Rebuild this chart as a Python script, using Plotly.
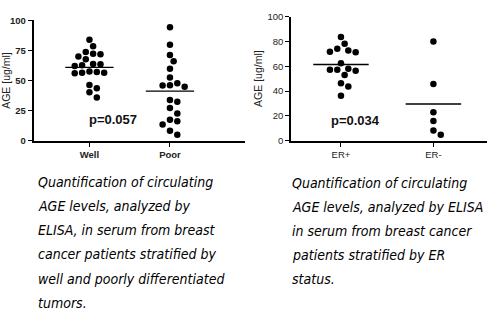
import plotly.graph_objects as go
import numpy as np

W, H = 490, 327

# ---- data ----
cats_left = ["Well", "Poor"]
well = [83.9, 78.5, 72.4, 70.0, 71.8, 73.7, 67.8, 63.8, 62.7, 62.2, 63.5,
        57.6, 56.6, 56.0, 56.6, 57.1, 46.4, 43.7, 40.2, 35.9]
poor = [94.4, 79.9, 71.3, 66.0, 59.8, 52.5, 46.1, 44.8, 45.8, 47.7, 33.8,
        32.4, 27.1, 22.5, 16.1, 13.4, 17.4, 8.3, 4.8]
cats_right = ["ER+", "ER-"]
er_pos = [83.6, 78.2, 72.7, 71.2, 71.7, 74.0, 62.3, 57.9, 57.1, 53.0, 56.4,
          57.1, 46.2, 43.6, 36.1]
er_neg = [80.0, 45.7, 22.9, 15.8, 8.1, 4.7]
ticks_left = [0, 25, 50, 75, 100]
ticks_right = [0, 20, 40, 60, 80, 100]
p_left = "p=0.057"
p_right = "p=0.034"
caption_left = ["Quantification of circulating", "AGE levels, analyzed by",
                "ELISA, in serum from breast", "cancer patients stratified by",
                "well and poorly differentiated", "tumors."]
caption_right = ["Quantification of circulating", "AGE levels, analyzed by ELISA",
                 "in serum from breast cancer", "patients stratified by ER",
                 "status."]

L = dict(x0=31, x1=243, ytop=15, ybot=139.3, xr=[0.309, 2.926])
R = dict(x0=290, x1=487, ytop=11, ybot=139.3, xr=[0.462, 2.58])

FONT = "Liberation Sans, Arial, sans-serif"


def beeswarm(vals, px_x, px_y, d=7.4):
    order = np.argsort(vals)[::-1]
    placed = []
    offs = np.zeros(len(vals))
    for i in order:
        yv = vals[i] * px_y
        best = None
        for k in range(0, 30):
            for s in ([0] if k == 0 else [k, -k]):
                xo = s * d / 2
                ok = all((xo - px) ** 2 + (yv - py) ** 2 >= (d * 0.98) ** 2 for px, py in placed)
                if ok:
                    best = xo
                    break
            if best is not None:
                break
        placed.append((best, yv))
        offs[i] = best / px_x
    return offs


fig = go.Figure()


def add_panel(g, series, xa, ya):
    px_x = (g["x1"] - g["x0"]) / (g["xr"][1] - g["xr"][0])
    px_y = (g["ybot"] - g["ytop"]) / 100.0
    for i, vals in enumerate(series):
        xc = i + 1
        offs = beeswarm(np.array(vals), px_x, px_y)
        fig.add_trace(go.Scatter(x=xc + offs, y=vals, mode="markers",
                                 marker=dict(color="black", size=6.5),
                                 xaxis=xa, yaxis=ya, showlegend=False))
        m = float(np.mean(vals))
        fig.add_trace(go.Scatter(x=[xc - 0.3, xc + 0.3], y=[m, m], mode="lines",
                                 line=dict(color="black", width=1.3),
                                 xaxis=xa, yaxis=ya, showlegend=False))


add_panel(L, [well, poor], "x", "y")
add_panel(R, [er_pos, er_neg], "x2", "y2")


def xdom(g):
    return [g["x0"] / W, g["x1"] / W]


def ydom(g):
    return [1 - g["ybot"] / H, 1 - g["ytop"] / H]


axis_common = dict(showline=True, linecolor="black", linewidth=2, showgrid=False,
                   zeroline=False, ticks="outside", ticklen=4, tickwidth=1.3,
                   tickcolor="black")
tickf = dict(family=FONT, size=9.5, color="#222")
titlef = dict(family=FONT, size=10.5, color="#222")

fig.update_layout(
    width=W, height=H, margin=dict(l=0, r=0, t=0, b=0),
    paper_bgcolor="white", plot_bgcolor="white",
    xaxis=dict(domain=xdom(L), range=L["xr"], tickvals=[1, 2],
               ticktext=["<b>%s</b>" % c for c in cats_left],
               tickfont=tickf, anchor="y", **axis_common),
    yaxis=dict(domain=ydom(L), range=[0, 100], tickvals=ticks_left,
               ticktext=["<b>%d</b>" % t for t in ticks_left], tickfont=tickf,
               title=dict(text="AGE [ug/ml]", font=titlef, standoff=3),
               anchor="x", **axis_common),
    xaxis2=dict(domain=xdom(R), range=R["xr"], tickvals=[1, 2], ticktext=cats_right,
                tickfont=tickf, anchor="y2", **axis_common),
    yaxis2=dict(domain=ydom(R), range=[0, 100], tickvals=ticks_right,
                tickfont=tickf,
                title=dict(text="AGE [ug/ml]", font=titlef, standoff=3),
                anchor="x2", **axis_common),
)

fig.add_annotation(text="<b>%s</b>" % p_left, x=85 / W, y=1 - 117 / H, xref="paper", yref="paper",
                   xanchor="left", yanchor="middle", showarrow=False,
                   font=dict(family=FONT, size=13, color="#111"))
fig.add_annotation(text="<b>%s</b>" % p_right, x=328 / W, y=1 - 118 / H, xref="paper", yref="paper",
                   xanchor="left", yanchor="middle", showarrow=False,
                   font=dict(family=FONT, size=13, color="#111"))

cap_font = dict(family="Liberation Sans Narrow, DejaVu Sans Condensed, sans-serif", size=14, color="black")
for i, line in enumerate(caption_left):
    fig.add_annotation(text="<i>%s</i>" % line, x=33 / W, y=1 - (182 + 25 * i) / H,
                       xref="paper", yref="paper", xanchor="left", yanchor="middle",
                       showarrow=False, font=cap_font)
for i, line in enumerate(caption_right):
    fig.add_annotation(text="<i>%s</i>" % line, x=289 / W, y=1 - (183 + 25 * i) / H,
                       xref="paper", yref="paper", xanchor="left", yanchor="middle",
                       showarrow=False, font=cap_font)

fig.write_html("out.html")
